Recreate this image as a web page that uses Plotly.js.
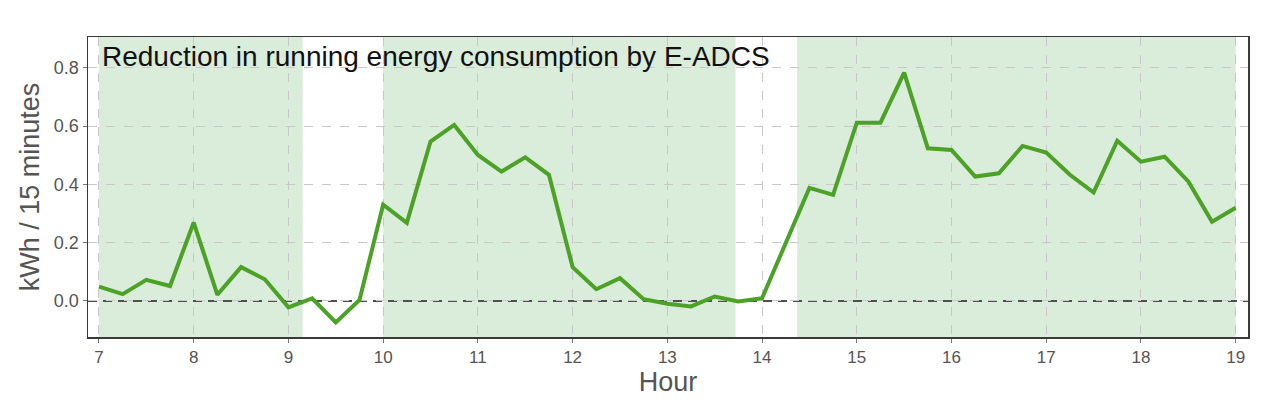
<!DOCTYPE html>
<html>
<head>
<meta charset="utf-8">
<script src="https://cdn.plot.ly/plotly-3.0.1.min.js"></script>
<style>html,body{margin:0;padding:0;background:#fff;}#chart{width:1280px;height:407px;}</style>
</head>
<body>
<div id="chart"></div>
<script>
// Time of day (hours), every 15 minutes from 7:00 to 19:00
const hours = [7,7.25,7.5,7.75,8,8.25,8.5,8.75,9,9.25,9.5,9.75,10,10.25,10.5,10.75,11,11.25,11.5,11.75,12,12.25,12.5,12.75,13,13.25,13.5,13.75,14,14.25,14.5,14.75,15,15.25,15.5,15.75,16,16.25,16.5,16.75,17,17.25,17.5,17.75,18,18.25,18.5,18.75,19];
// Reduction in energy consumption (kWh / 15 minutes)
const reduction = [0.049,0.023,0.072,0.051,0.269,0.021,0.116,0.074,-0.022,0.009,-0.074,0.003,0.33,0.268,0.547,0.604,0.501,0.444,0.493,0.433,0.116,0.040,0.078,0.006,-0.010,-0.019,0.015,-0.002,0.009,0.2,0.388,0.364,0.612,0.612,0.784,0.524,0.518,0.427,0.438,0.532,0.509,0.433,0.372,0.55,0.478,0.495,0.41,0.272,0.32];
// Shaded (active) periods: start and end hours
const spanStart = [7.0, 10.0, 14.37];
const spanEnd   = [9.15, 13.72, 19.0];
const xTicks = [7,8,9,10,11,12,13,14,15,16,17,18,19];
const yTicks = [0.0,0.2,0.4,0.6,0.8];
const titleText = "Reduction in running energy consumption by E-ADCS";

const FONT = 'Liberation Sans, Arial, sans-serif';

const shapes = spanStart.map((s, i) => ({
  type: 'rect', xref: 'x', yref: 'paper', x0: s, x1: spanEnd[i], y0: 0, y1: 1,
  fillcolor: 'rgb(218,236,218)', line: {width: 0}, layer: 'below'
}));
shapes.push({
  type: 'line', xref: 'paper', yref: 'y', x0: 0, x1: 1, y0: 0, y1: 0,
  line: {color: '#505050', width: 2, dash: '9px,6px'}, layer: 'below'
});

const trace = {
  x: hours, y: reduction, type: 'scatter', mode: 'lines',
  line: {color: 'rgb(76,162,38)', width: 4},
  hoverinfo: 'x+y'
};

const axisCommon = {
  showline: true, mirror: true, linecolor: '#3a3a3a', linewidth: 1.5,
  ticks: 'outside', ticklen: 4, tickcolor: '#777777',
  showgrid: true, gridcolor: '#c8c8c8', griddash: 'dash', gridwidth: 1,
  zeroline: false
};

const layout = {
  width: 1280, height: 407,
  margin: {l: 88, r: 32, t: 37, b: 70},
  paper_bgcolor: '#ffffff', plot_bgcolor: '#ffffff',
  showlegend: false,
  xaxis: Object.assign({}, axisCommon, {
    range: [6.884, 19.13], tickvals: xTicks, ticktext: xTicks.map(String),
    tickfont: {family: FONT, size: 17, color: '#555555'},
    title: {text: 'Hour', font: {family: FONT, size: 27, color: '#555555'}, standoff: 5}
  }),
  yaxis: Object.assign({}, axisCommon, {
    range: [-0.124, 0.906], tickvals: yTicks, ticktext: yTicks.map(v => v.toFixed(1)),
    tickfont: {family: FONT, size: 18, color: '#555555'},
    title: {text: 'kWh / 15 minutes', font: {family: FONT, size: 27, color: '#555555'}, standoff: 6}
  }),
  shapes: shapes,
  annotations: [{
    text: titleText, xref: 'paper', yref: 'paper', x: 0, y: 1,
    xanchor: 'left', yanchor: 'top', xshift: 12, yshift: -2, showarrow: false,
    font: {family: FONT, size: 28, color: '#111111'}
  }]
};

Plotly.newPlot('chart', [trace], layout, {displayModeBar: false, staticPlot: true});
</script>
</body>
</html>
